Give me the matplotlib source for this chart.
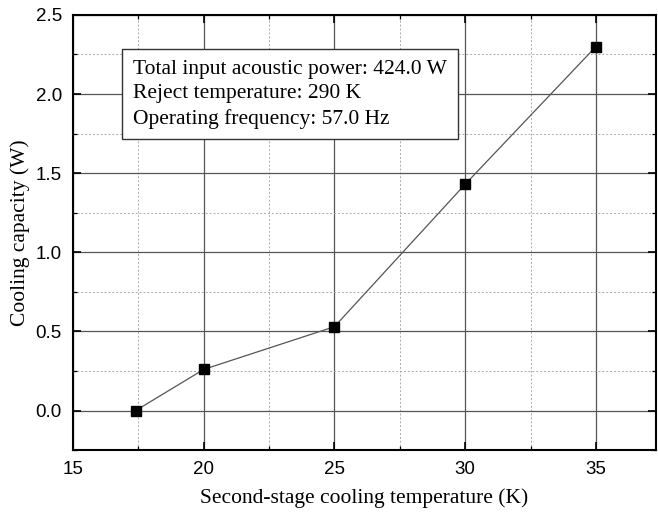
"""Cooling capacity versus second-stage cooling temperature."""

import matplotlib.pyplot as plt
from matplotlib.ticker import MultipleLocator

# Data.
temperature_k = [17.4, 20, 25, 30, 35]
cooling_w = [0.0, 0.26, 0.53, 1.43, 2.30]

info_lines = [
    "Total input acoustic power: 424.0 W",
    "Reject temperature: 290 K",
    "Operating frequency: 57.0 Hz",
]

SERIF = ["Liberation Serif", "DejaVu Serif"]
SANS = ["Liberation Sans", "DejaVu Sans"]

fig = plt.figure(figsize=(6.58, 5.15), dpi=100)
ax = fig.add_axes([0.111, 0.126, 0.886, 0.845])

ax.plot(temperature_k, cooling_w, color="#555555", lw=0.9, zorder=3)
ax.plot(temperature_k, cooling_w, ls="none", marker="s", ms=7.5,
        color="black", zorder=4)

ax.set_xlim(15, 37.3)
ax.set_ylim(-0.25, 2.5)
ax.xaxis.set_major_locator(MultipleLocator(5))
ax.xaxis.set_minor_locator(MultipleLocator(2.5))
ax.yaxis.set_major_locator(MultipleLocator(0.5))
ax.yaxis.set_minor_locator(MultipleLocator(0.25))

ax.grid(True, which="major", color="#555555", lw=0.9, ls="-")
ax.grid(True, which="minor", color="#aaaaaa", lw=0.7, ls=(0, (2, 2)))
ax.set_axisbelow(True)

ax.tick_params(which="both", direction="in", top=True, right=True)
ax.tick_params(which="major", length=6, width=1.2, labelsize=13.5, pad=8)
ax.tick_params(which="minor", length=3, width=0.9)
for lab in ax.get_xticklabels() + ax.get_yticklabels():
    lab.set_family(SANS)
for sp in ax.spines.values():
    sp.set_linewidth(1.5)

ax.set_xlabel("Second-stage cooling temperature (K)", family=SERIF,
              fontsize=15.5, labelpad=7)
ax.set_ylabel("Cooling capacity (W)", family=SERIF, fontsize=15.5, labelpad=4)

ax.text(0.103, 0.897, "\n".join(info_lines), transform=ax.transAxes,
        family=SERIF, fontsize=15.5, va="top", ha="left", linespacing=1.38,
        zorder=5,
        bbox=dict(boxstyle="square,pad=0.5", fc="white", ec="#333333", lw=1.0))

fig.savefig("out.png", dpi=100)
